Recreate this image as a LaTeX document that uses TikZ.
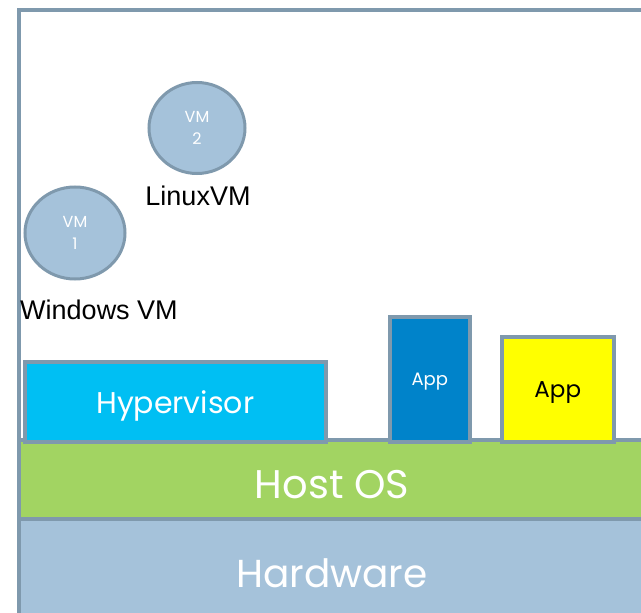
\documentclass[tikz,border=0pt]{standalone}
\usepackage{fontspec}
\setmainfont{Poppins}
\newfontfamily\arialfont{Liberation Sans}
\definecolor{edgegray}{HTML}{7F99AD}
\definecolor{hwblue}{HTML}{A5C2DA}
\definecolor{osgreen}{HTML}{A2D462}
\definecolor{hvcyan}{HTML}{00BFF3}
\definecolor{appblue}{HTML}{0083CA}
\definecolor{appyellow}{HTML}{FFFF00}
\begin{document}
\begin{tikzpicture}[x=1pt,y=-1pt,
  layer/.style={draw=edgegray,line width=3.5pt},
  block/.style={draw=edgegray,line width=3.5pt,inner sep=0pt,anchor=north west,text depth=0pt},
  vm/.style={ellipse,draw=edgegray,line width=3pt,fill=hwblue,inner sep=0pt,
    text=white,font=\fontsize{16}{22}\selectfont,align=center},
  caption/.style={font=\arialfont\fontsize{27}{30}\selectfont,inner sep=0pt}]
\usetikzlibrary{shapes.geometric}
\useasboundingbox (0,0) rectangle (641,613);
\begin{scope}
\clip (0,0) rectangle (641,613);
% stacked layers: hardware at the bottom, host OS above it
\draw[layer,fill=hwblue] (19,519) rectangle (660,640);
\draw[layer,fill=osgreen] (19,440) rectangle (660,519);
\node[text=white,font=\fontsize{39}{42}\selectfont] (hw) at (332,573) {Hardware};
\node[text=white,font=\fontsize{40}{42}\selectfont] (os) at (332,485) {Host OS};
% outer frame
\draw[draw=edgegray,line width=4pt] (19,660) -- (19,10) -- (660,10);
\end{scope}
% blocks on top of the host OS
\node[block,fill=hvcyan,minimum width=301pt,minimum height=80pt,text=white,
  font=\fontsize{30}{33}\selectfont] (hv) at (23,360) {Hypervisor};
\node[block,fill=appblue,minimum width=80pt,minimum height=125pt,text=white,
  font=\fontsize{18}{21}\selectfont] (app1) at (388,315) {App};
\node[block,fill=appyellow,minimum width=112pt,minimum height=105pt,text=black,
  font=\fontsize{23}{26}\selectfont] (app2) at (500,335) {App};
% virtual machines
\node[vm,minimum width=100pt,minimum height=92pt] (vm1) at (75,233) {VM\\1};
\node[vm,minimum width=96pt,minimum height=91pt] (vm2) at (197,128) {VM\\2};
\node[caption] (vm2lbl) at (198,196) {LinuxVM};
\node[caption] (vm1lbl) at (99,310) {Windows VM};
\end{tikzpicture}
\end{document}
